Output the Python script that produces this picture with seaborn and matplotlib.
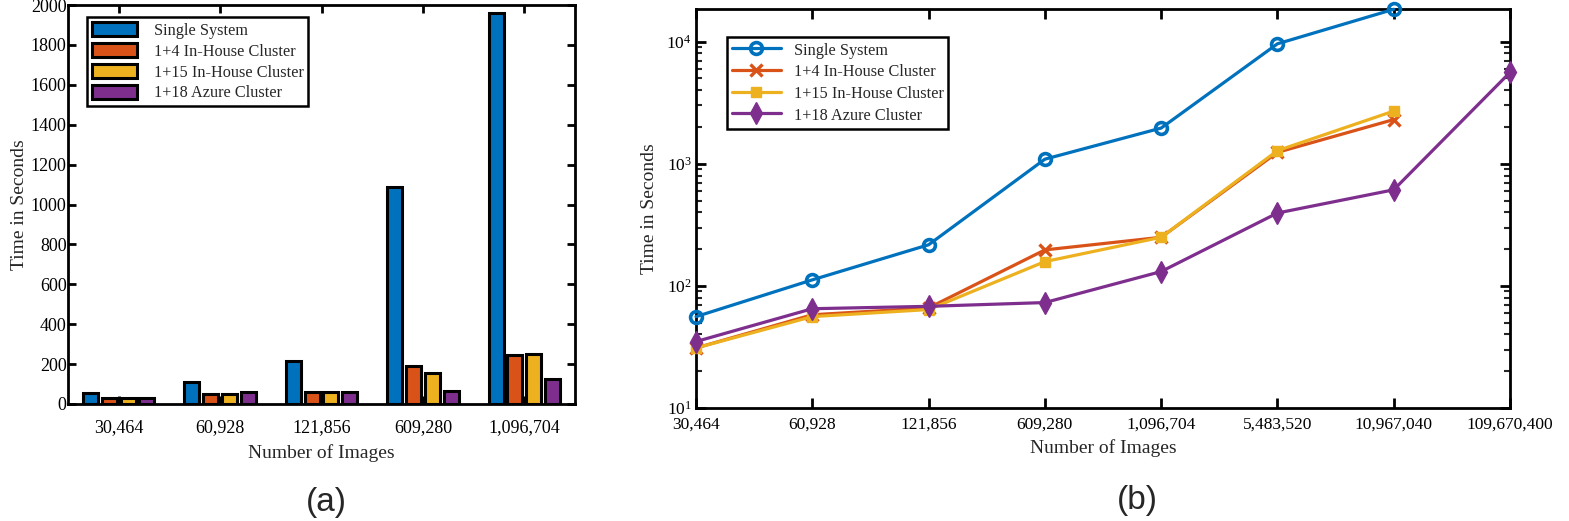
import matplotlib
matplotlib.use('Agg')
from matplotlib import pyplot as plt
from matplotlib.patches import Patch
from matplotlib.lines import Line2D
from matplotlib.ticker import LogLocator, NullFormatter, LogFormatterMathtext
import pandas as pd
import seaborn as sns

# x categories (number of images)
bar_images = ['30,464', '60,928', '121,856', '609,280', '1,096,704']
line_images = ['30,464', '60,928', '121,856', '609,280', '1,096,704',
               '5,483,520', '10,967,040', '109,670,400']
setups = ['Single System', '1+4 In-House Cluster', '1+15 In-House Cluster', '1+18 Azure Cluster']
colors = ['#0072BD', '#D95319', '#EDB120', '#7E2F8E']

# (a) bar chart, seconds
bar_single = [53, 108, 216, 1090, 1960]
bar_house4 = [28, 52, 60, 190, 248]
bar_house15 = [28, 52, 60, 157, 252]
bar_azure = [32, 60, 60, 67, 126]

# (b) log chart, seconds
line_single = [56, 112, 217, 1090, 1960, 9600, 18400]
line_house4 = [31, 58, 66, 197, 250, 1240, 2300]
line_house15 = [31, 56, 64, 158, 250, 1280, 2700]
line_azure = [35, 65, 68, 73, 131, 395, 612, 5600]

sns.set_style('ticks')
plt.rcParams['font.family'] = ['Liberation Serif', 'DejaVu Serif']
plt.rcParams['mathtext.fontset'] = 'stix'
plt.rcParams['axes.linewidth'] = 2.0

W, H = 1569, 521
fig = plt.figure(figsize=(W / 100, H / 100), dpi=100)


def px_axes(x0, y0, x1, y1):
    return fig.add_axes([x0 / W, 1 - y1 / H, (x1 - x0) / W, (y1 - y0) / H])


# ---------- (a) ----------
ax1 = px_axes(68, 5, 575, 404)
rows = []
for name, vals in zip(setups, [bar_single, bar_house4, bar_house15, bar_azure]):
    for img, v in zip(bar_images, vals):
        rows.append({'images': img, 'time': v, 'setup': name})
df_bar = pd.DataFrame(rows)

sns.barplot(data=df_bar, x='images', y='time', hue='setup', order=bar_images,
            hue_order=setups, palette=colors, saturation=1, width=0.74, gap=0.2,
            edgecolor='black', linewidth=2.2, errorbar=None, legend=False, ax=ax1)
ax1.set_xlim(-0.5, 4.5)
ax1.set_ylim(0, 2000)
ax1.set_yticks(range(0, 2001, 200))
ax1.tick_params(axis='both', direction='in', top=True, right=True, length=6, width=2,
                labelsize=13, colors='black')
ax1.tick_params(axis='x', pad=11)
ax1.tick_params(axis='y', pad=1)
ax1.set_xlabel('Number of Images', fontsize=14, labelpad=6)
ax1.set_ylabel('Time in Seconds', fontsize=14, labelpad=2)
for s in ax1.spines.values():
    s.set_color('black')
    s.set_linewidth(2.0)

bar_handles = [Patch(facecolor=c, edgecolor='black', linewidth=2.2) for c in colors]
leg1 = ax1.legend(bar_handles, setups, loc='upper left',
                  bbox_to_anchor=(87 / W, 1 - 17 / H), bbox_transform=fig.transFigure,
                  fontsize=11.7, handlelength=2.8, handleheight=1.0, labelspacing=0.25,
                  borderpad=0.3, handletextpad=1.0, fancybox=False, framealpha=1,
                  borderaxespad=0)
leg1.get_frame().set_edgecolor('black')
leg1.get_frame().set_linewidth(1.8)

# ---------- (b) ----------
ax2 = px_axes(696, 9, 1510, 408)
line_styles = [
    dict(marker='o', markersize=8.5, markerfacecolor='none', markeredgewidth=2.6),
    dict(marker='x', markersize=8, markeredgewidth=2.4),
    dict(marker='s', markersize=7.5, markeredgewidth=1),
    dict(marker='d', markersize=11, markeredgewidth=1),
]
for name, vals, col, st in zip(setups, [line_single, line_house4, line_house15, line_azure],
                               colors, line_styles):
    df_line = pd.DataFrame({'pos': range(len(vals)), 'time': vals})
    if st.get('markerfacecolor') != 'none':
        st = dict(st, markerfacecolor=col)
    sns.lineplot(data=df_line, x='pos', y='time', color=col, linewidth=2.3,
                 markeredgecolor=col, clip_on=False, zorder=3, ax=ax2, **st)

ax2.set_yscale('log')
ax2.set_xlim(0, len(line_images) - 1)
ax2.set_ylim(10, 18500)
ax2.set_xticks(range(len(line_images)))
ax2.set_xticklabels(line_images)
ax2.yaxis.set_major_locator(LogLocator(base=10, numticks=10))
ax2.yaxis.set_major_formatter(LogFormatterMathtext())
ax2.yaxis.set_minor_locator(LogLocator(base=10, subs=range(2, 10), numticks=20))
ax2.yaxis.set_minor_formatter(NullFormatter())
ax2.tick_params(axis='both', which='major', direction='in', top=True, right=True,
                length=7, width=2, labelsize=12.5, colors='black')
ax2.tick_params(axis='y', which='minor', direction='in', left=True, right=True,
                length=4, width=1.5)
ax2.tick_params(axis='x', pad=6)
ax2.tick_params(axis='y', pad=3)
ax2.set_xlabel('Number of Images', fontsize=14, labelpad=5)
ax2.set_ylabel('Time in Seconds', fontsize=14, labelpad=6)
for s in ax2.spines.values():
    s.set_color('black')
    s.set_linewidth(2.0)

line_handles = [Line2D([], [], color=c, linewidth=2.3, markeredgecolor=c,
                       **(st if st.get('markerfacecolor') == 'none' else dict(st, markerfacecolor=c)))
                for c, st in zip(colors, line_styles)]
leg2 = ax2.legend(line_handles, setups, loc='upper left',
                  bbox_to_anchor=(727 / W, 1 - 37 / H), bbox_transform=fig.transFigure,
                  fontsize=11.7, handlelength=3.0, handleheight=1.0, labelspacing=0.3,
                  borderpad=0.3, handletextpad=0.8, fancybox=False, framealpha=1,
                  borderaxespad=0)
leg2.get_frame().set_edgecolor('black')
leg2.get_frame().set_linewidth(1.8)

# panel captions
fig.text(326 / W, 1 - 502 / H, '(a)', ha='center', va='center', fontsize=24,
         family=['Liberation Sans', 'DejaVu Sans'])
fig.text(1137 / W, 1 - 500 / H, '(b)', ha='center', va='center', fontsize=24,
         family=['Liberation Sans', 'DejaVu Sans'])

fig.savefig('out.png', dpi=100)
